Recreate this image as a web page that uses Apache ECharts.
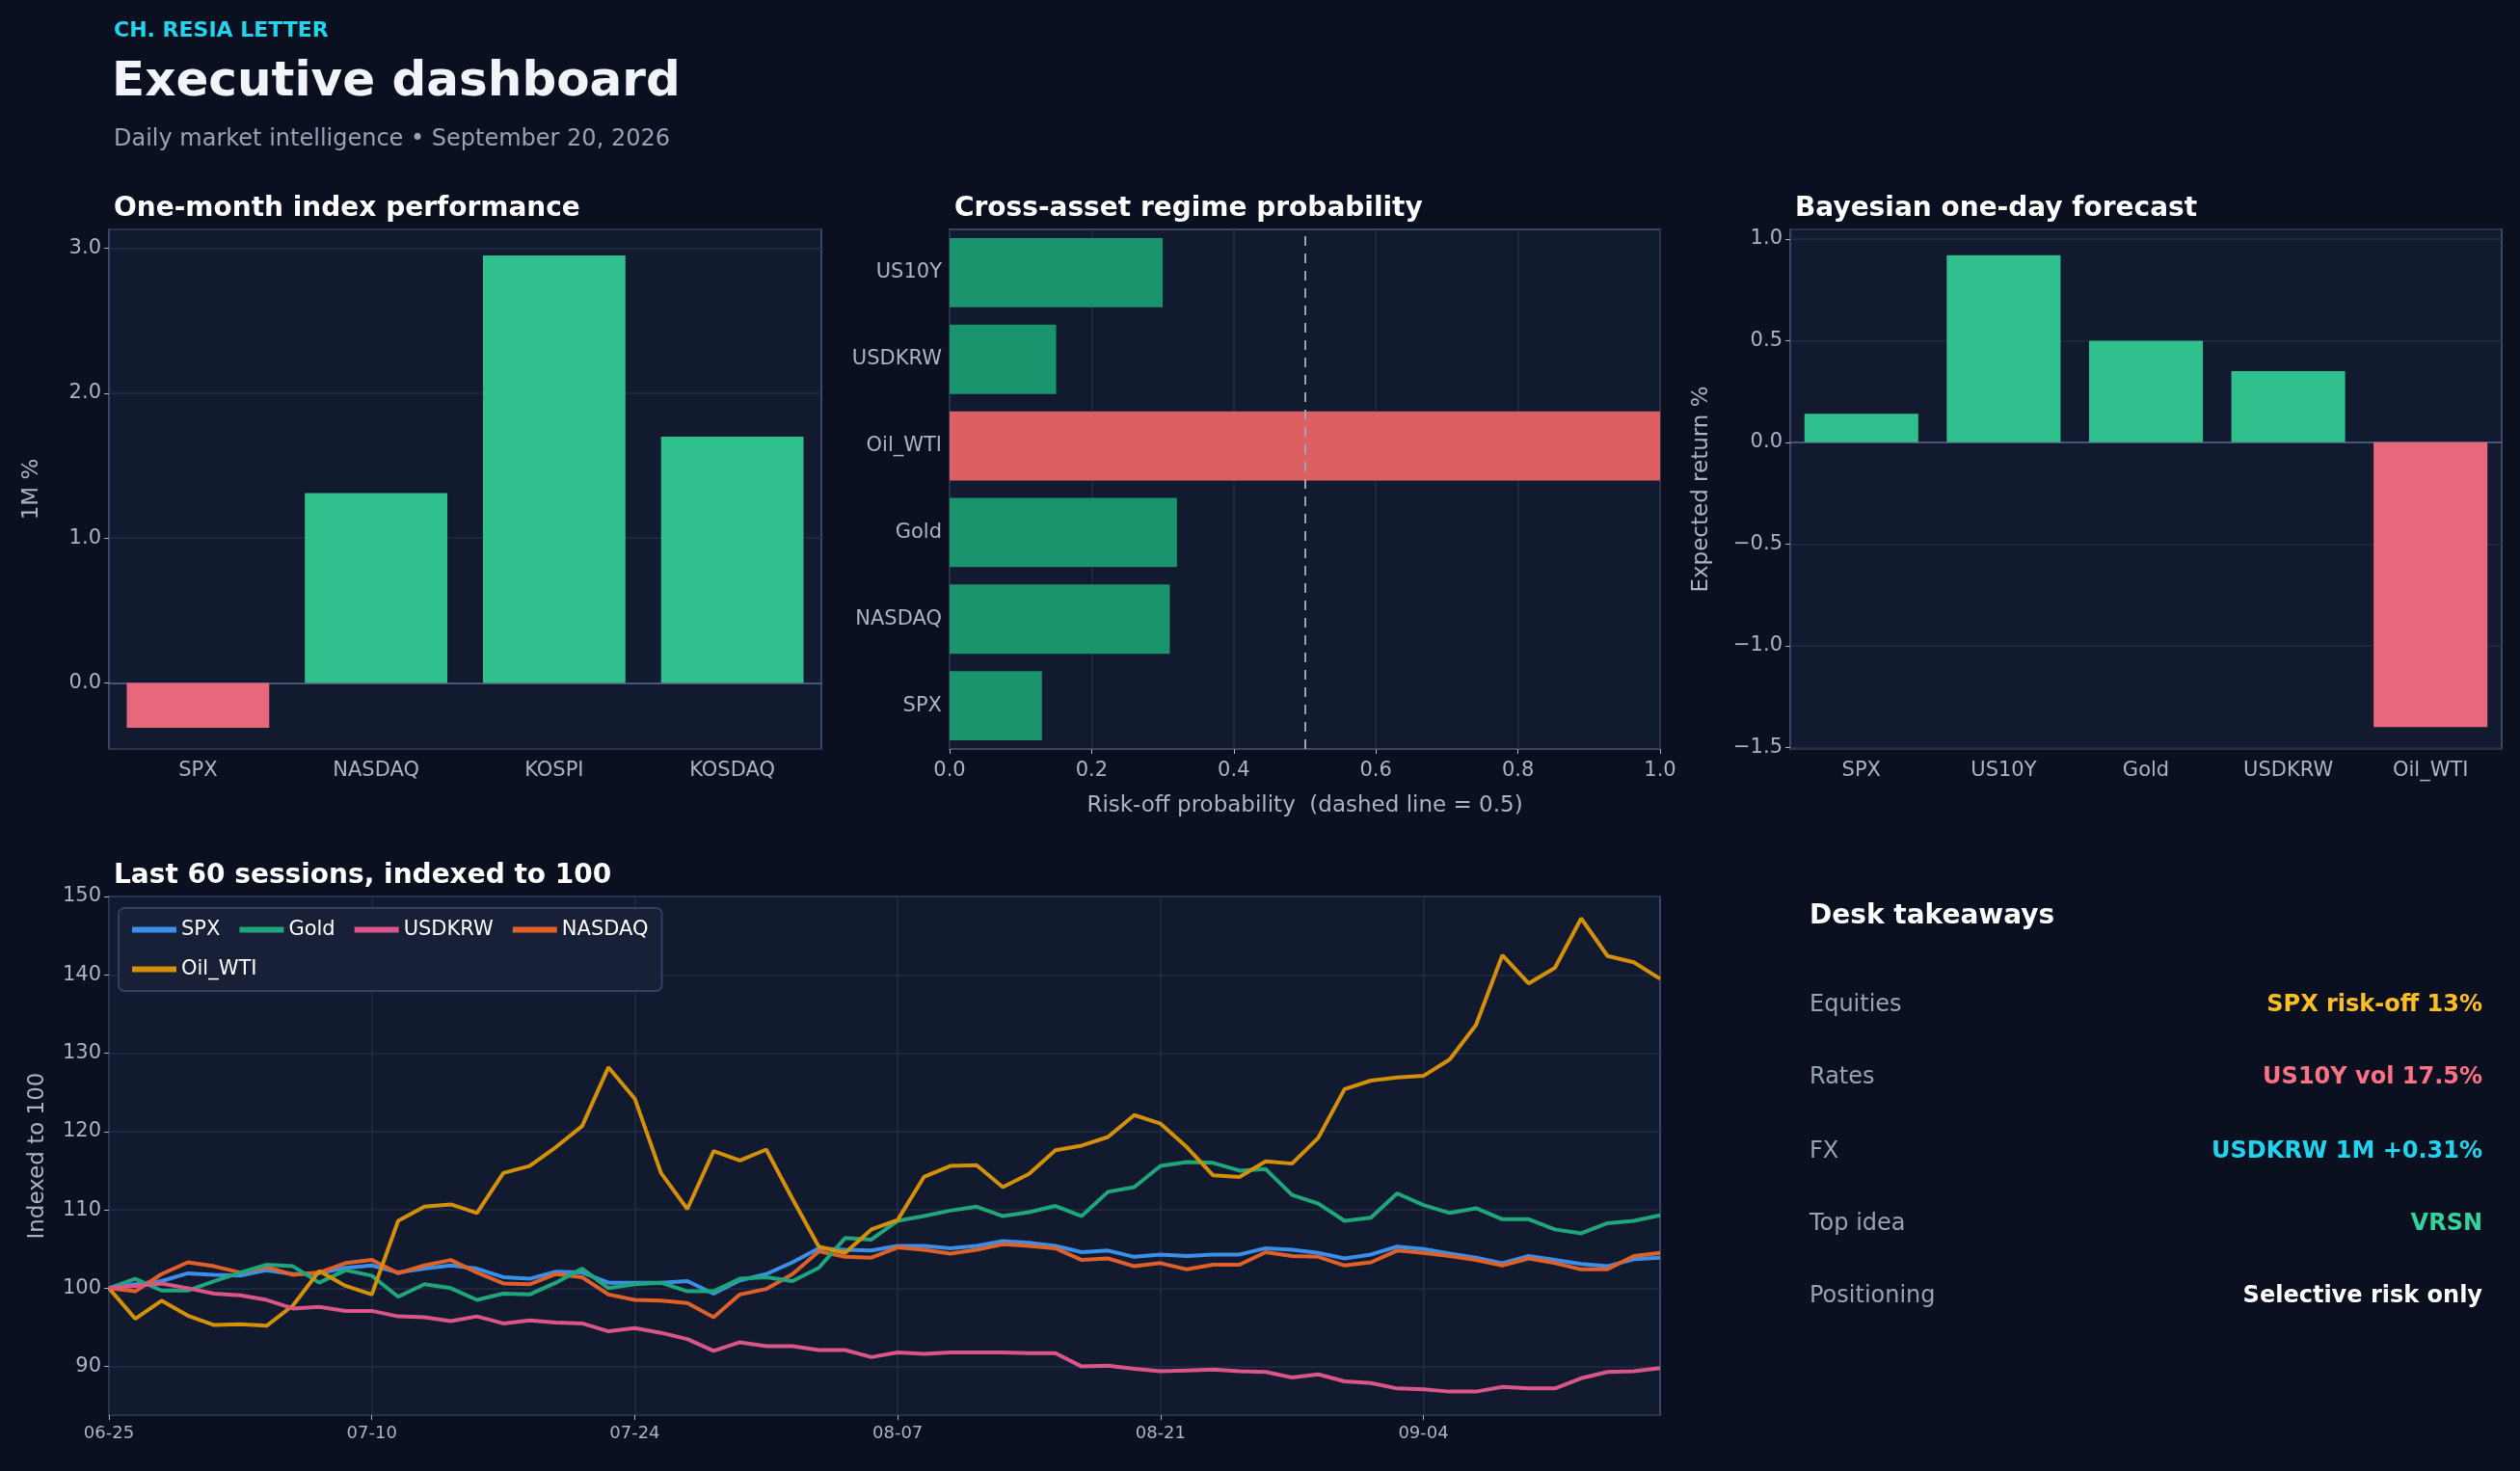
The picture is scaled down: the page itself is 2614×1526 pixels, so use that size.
<!DOCTYPE html>
<html><head><meta charset="utf-8">
<script src="https://cdn.jsdelivr.net/npm/echarts@6/dist/echarts.min.js"></script>
<style>html,body{margin:0;padding:0;background:#0b1020;}#c{width:2614px;height:1526px;}</style>
</head><body><div id="c"></div>
<script>
const perfCats = ['SPX','NASDAQ','KOSPI','KOSDAQ'];
const perfVals = [-0.31, 1.31, 2.95, 1.70];
const regimeCats = ['SPX','NASDAQ','Gold','Oil_WTI','USDKRW','US10Y'];
const regimeVals = [0.13, 0.31, 0.32, 1.00, 0.15, 0.30];
const fcCats = ['SPX','US10Y','Gold','USDKRW','Oil_WTI'];
const fcVals = [0.14, 0.92, 0.50, 0.35, -1.40];
const dates = ['06-25','06-26','06-29','06-30','07-01','07-02','07-06','07-07','07-08','07-09',
'07-10','07-13','07-14','07-15','07-16','07-17','07-20','07-21','07-22','07-23',
'07-24','07-27','07-28','07-29','07-30','07-31','08-03','08-04','08-05','08-06',
'08-07','08-10','08-11','08-12','08-13','08-14','08-17','08-18','08-19','08-20',
'08-21','08-24','08-25','08-26','08-27','08-28','08-31','09-01','09-02','09-03',
'09-04','09-08','09-09','09-10','09-11','09-14','09-15','09-16','09-17','09-18'];
const spx = [100,100.5,100.9,101.9,101.7,101.6,102.3,101.8,101.9,102.6,102.9,102,102.5,102.9,102.5,101.4,101.2,102.1,102,100.7,100.7,100.7,100.9,99.3,101,101.8,103.3,105.1,104.9,104.8,105.4,105.4,105.1,105.4,106,105.8,105.4,104.6,104.8,104,104.3,104.1,104.3,104.3,105.1,104.9,104.5,103.8,104.3,105.3,105,104.4,103.9,103.2,104.1,103.6,103.1,102.8,103.7,103.9];
const nasdaq = [100,99.6,101.8,103.3,102.8,102,102.7,101.7,102,103.2,103.6,101.9,102.9,103.6,102,100.6,100.5,101.8,101.4,99.2,98.5,98.4,98.1,96.3,99.2,99.9,101.8,104.7,104,103.9,105.2,104.9,104.4,104.9,105.6,105.4,105.1,103.6,103.8,102.8,103.2,102.4,103,103,104.6,104.1,104,102.9,103.3,104.8,104.5,104.1,103.6,102.9,103.8,103.2,102.4,102.4,104.1,104.5];
const gold = [100,101.2,99.7,99.7,100.9,102,103,102.8,100.7,102.3,101.6,98.9,100.5,100,98.5,99.3,99.2,100.7,102.5,100,100.5,100.7,99.6,99.6,101.2,101.4,100.9,102.6,106.4,106.2,108.6,109.2,109.9,110.4,109.2,109.7,110.5,109.2,112.3,112.9,115.6,116.1,116,115,115.2,111.9,110.8,108.6,109,112.1,110.6,109.6,110.2,108.8,108.8,107.5,107,108.3,108.6,109.3];
const oil = [100,96.1,98.4,96.5,95.3,95.4,95.2,97.8,102.2,100.3,99.2,108.6,110.4,110.7,109.6,114.7,115.6,118,120.7,128.2,124.2,114.7,110.1,117.5,116.3,117.7,111.4,105.3,104.5,107.5,108.7,114.2,115.6,115.7,112.9,114.6,117.6,118.2,119.3,122.1,121,118,114.4,114.2,116.2,115.9,119.2,125.4,126.5,126.9,127.1,129.2,133.6,142.5,138.9,140.9,147.2,142.4,141.6,139.5];
const usdkrw = [100,100.3,100.6,100,99.3,99.1,98.5,97.4,97.6,97.1,97.1,96.4,96.3,95.8,96.4,95.5,95.9,95.6,95.5,94.5,94.9,94.3,93.5,92,93.1,92.6,92.6,92.1,92.1,91.2,91.8,91.6,91.8,91.8,91.8,91.7,91.7,90,90.1,89.7,89.4,89.5,89.6,89.4,89.3,88.6,89,88.1,87.9,87.2,87.1,86.8,86.8,87.4,87.2,87.2,88.5,89.3,89.4,89.8];
const takeLabels = ['Equities','Rates','FX','Top idea','Positioning'];
const takeValues = ['SPX risk-off 13%','US10Y vol 17.5%','USDKRW 1M +0.31%','VRSN','Selective risk only'];
const takeColors = ['#fbbf24','#fb7185','#22d3ee','#34d399','#ffffff'];

const FONT = 'DejaVu Sans';
const GREEN = '#2fc08e', RED = '#e8677a', DGREEN = '#1a946c', DRED = '#dc5f62';
const axCol = '#a9b4c8', gridCol = '#222d45', borderCol = '#3a4664';
const chart = echarts.init(document.getElementById('c'));
const grids = [
  {left:113,top:238,width:739,height:539},
  {left:985,top:238,width:737,height:539},
  {left:1857,top:238,width:738,height:539},
  {left:113,top:930,width:1609,height:538}
];
grids.forEach(g=>{g.backgroundColor='#111a2e';g.borderColor=borderCol;g.borderWidth=2;g.show=true;});
const lbl = {color:axCol,fontFamily:FONT,fontSize:21};
const split = {show:true,lineStyle:{color:gridCol,width:1.5}};
const fmt1 = v=>v.toFixed(1).replace('-','\u2212');

const titles = [
  {text:'CH. RESIA LETTER',left:113,top:16,textStyle:{color:'#22d3ee',fontFamily:FONT,fontSize:22,fontWeight:'bold'}},
  {text:'Executive dashboard',left:111,top:56,textStyle:{color:'#f1f5f9',fontFamily:FONT,fontSize:50,fontWeight:'bold'}},
  {text:'Daily market intelligence \u2022 September 20, 2026',left:113,top:128,textStyle:{color:'#94a3b8',fontFamily:FONT,fontSize:24,fontWeight:'normal'}},
  {text:'One-month index performance',left:113,top:198,textStyle:{color:'#ffffff',fontFamily:FONT,fontSize:28,fontWeight:'bold'}},
  {text:'Cross-asset regime probability',left:985,top:198,textStyle:{color:'#ffffff',fontFamily:FONT,fontSize:28,fontWeight:'bold'}},
  {text:'Bayesian one-day forecast',left:1857,top:198,textStyle:{color:'#ffffff',fontFamily:FONT,fontSize:28,fontWeight:'bold'}},
  {text:'Last 60 sessions, indexed to 100',left:113,top:890,textStyle:{color:'#ffffff',fontFamily:FONT,fontSize:28,fontWeight:'bold'}},
  {text:'Desk takeaways',left:1872,top:932,textStyle:{color:'#ffffff',fontFamily:FONT,fontSize:28,fontWeight:'bold'}}
];
const rowY = [1040,1115,1192,1267,1342];
takeLabels.forEach((t,i)=>{
  titles.push({text:t,left:1872,top:rowY[i]-14,textStyle:{color:'#94a3b8',fontFamily:FONT,fontSize:24,fontWeight:'normal'}});
  titles.push({text:takeValues[i],right:34,top:rowY[i]-14,textStyle:{color:takeColors[i],fontFamily:FONT,fontSize:24,fontWeight:'bold'}});
});

const lineSeries = [['SPX',spx,'#3b8fe8'],['NASDAQ',nasdaq,'#e0602a'],['Gold',gold,'#1fa67a'],['Oil_WTI',oil,'#d4900a'],['USDKRW',usdkrw,'#d9558a']];

chart.setOption({
  backgroundColor:'#0b1020',
  animation:false,
  title:titles,
  grid:grids,
  legend:{data:['SPX','Gold','USDKRW','NASDAQ','Oil_WTI'],left:123,top:942,width:600,itemWidth:46,itemHeight:6,itemGap:20,
    backgroundColor:'#172036',borderColor:'#33405e',borderWidth:2,borderRadius:6,padding:[12,14,12,14],
    icon:'rect',textStyle:{color:'#ffffff',fontFamily:FONT,fontSize:21,width:120}},
  xAxis:[
    {gridIndex:0,type:'category',data:perfCats,axisLine:{onZero:true,lineStyle:{color:'#4a5578',width:2}},axisTick:{alignWithLabel:true,lineStyle:{color:axCol}},axisLabel:Object.assign({margin:12},lbl),splitLine:{show:false}},
    {gridIndex:1,type:'value',min:0,max:1,interval:0.2,axisLine:{show:false},axisTick:{show:true,lineStyle:{color:axCol}},axisLabel:Object.assign({formatter:fmt1,margin:12},lbl),splitLine:split,
      name:'Risk-off probability  (dashed line = 0.5)',nameLocation:'middle',nameGap:48,nameTextStyle:{color:axCol,fontFamily:FONT,fontSize:23}},
    {gridIndex:2,type:'category',data:fcCats,axisLine:{onZero:true,lineStyle:{color:'#4a5578',width:2}},axisTick:{alignWithLabel:true,lineStyle:{color:axCol}},axisLabel:Object.assign({margin:12},lbl),splitLine:{show:false}},
    {gridIndex:3,type:'category',data:dates,boundaryGap:false,axisLine:{show:false},
      axisTick:{interval:(i)=>i%10===0,lineStyle:{color:axCol}},axisLabel:Object.assign({},lbl,{fontSize:18,interval:(i)=>i%10===0,margin:10}),
      splitLine:{show:true,interval:(i)=>i%10===0,lineStyle:{color:gridCol,width:1.5}}}
  ],
  yAxis:[
    {gridIndex:0,type:'value',min:-0.456,max:3.13,axisLine:{show:false},axisTick:{show:true,lineStyle:{color:axCol}},axisLabel:Object.assign({formatter:fmt1,showMinLabel:false,showMaxLabel:false},lbl),splitLine:split,
      name:'1M %',nameLocation:'middle',nameGap:68,nameTextStyle:{color:axCol,fontFamily:FONT,fontSize:23}},
    {gridIndex:1,type:'category',data:regimeCats,axisLine:{show:false},axisTick:{alignWithLabel:true,lineStyle:{color:axCol}},axisLabel:lbl,splitLine:{show:false}},
    {gridIndex:2,type:'value',min:-1.508,max:1.047,axisLine:{show:false},axisTick:{show:true,lineStyle:{color:axCol}},axisLabel:Object.assign({formatter:fmt1,showMinLabel:false,showMaxLabel:false},lbl),splitLine:split,
      name:'Expected return %',nameLocation:'middle',nameGap:80,nameTextStyle:{color:axCol,fontFamily:FONT,fontSize:23}},
    {gridIndex:3,type:'value',min:83.8,max:150,axisLine:{show:false},axisTick:{show:true,lineStyle:{color:axCol}},axisLabel:Object.assign({showMinLabel:false},lbl),splitLine:split,
      name:'Indexed to 100',nameLocation:'middle',nameGap:62,nameTextStyle:{color:axCol,fontFamily:FONT,fontSize:23}}
  ],
  series:[
    {type:'bar',xAxisIndex:0,yAxisIndex:0,barWidth:'80%',data:perfVals.map(v=>({value:v,itemStyle:{color:v<0?RED:GREEN}}))},
    {type:'bar',xAxisIndex:1,yAxisIndex:1,barWidth:'80%',data:regimeVals.map(v=>({value:v,itemStyle:{color:v>0.5?DRED:DGREEN}})),
      markLine:{silent:true,symbol:'none',label:{show:false},lineStyle:{color:'#9aa5bd',type:[10,8],width:2},data:[{xAxis:0.5}]}},
    {type:'bar',xAxisIndex:2,yAxisIndex:2,barWidth:'80%',data:fcVals.map(v=>({value:v,itemStyle:{color:v<0?RED:GREEN}}))},
    ...lineSeries.map(([n,d,c])=>({name:n,type:'line',xAxisIndex:3,yAxisIndex:3,data:d,symbol:'none',lineStyle:{color:c,width:4},itemStyle:{color:c}}))
  ]
});
</script></body></html>
